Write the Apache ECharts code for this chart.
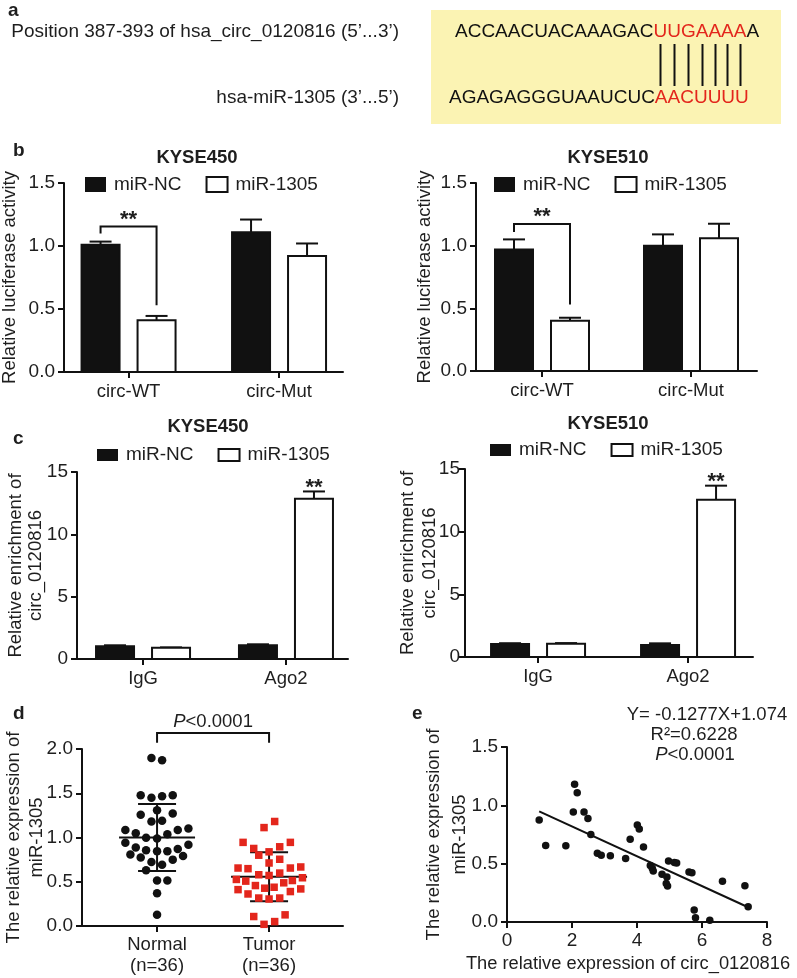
<!DOCTYPE html>
<html><head><meta charset="utf-8">
<script src="https://cdn.jsdelivr.net/npm/echarts@6/dist/echarts.min.js"></script>
<style>html,body{margin:0;padding:0;background:#fff}#c{width:797px;height:978px}</style>
</head><body><div id="c"></div>
<script>
// ---------------- data ----------------
const labelTop = 'Position 387-393 of hsa_circ_0120816 (5’...3’)';
const labelBot = 'hsa-miR-1305 (3’...5’)';
const seqTopBlack = 'ACCAACUACAAAGAC';
const seqTopRed = 'UUGAAAA';
const seqTopTail = 'A';
const seqBotBlack = 'AGAGAGGGUAAUCUC';
const seqBotRed = 'AACUUUU';

const seriesNames = ['miR-NC', 'miR-1305'];
const lucCategories = ['circ-WT', 'circ-Mut'];
const ripCategories = ['IgG', 'Ago2'];
const cellLines = ['KYSE450', 'KYSE510'];

const b450NC = [1.01, 1.11];  const b450NCErr = [0.025, 0.10];
const b450Mi = [0.41, 0.92];  const b450MiErr = [0.035, 0.10];
const b510NC = [0.97, 1.00];  const b510NCErr = [0.08, 0.09];
const b510Mi = [0.40, 1.06];  const b510MiErr = [0.025, 0.115];
const b450Bracket = [1.10, 1.155, 0.53];   // left leg end, top, right leg end
const b510Bracket = [1.11, 1.173, 0.53];

const c450NC = [1.02, 1.10];  const c450NCErr = [0.08, 0.08];
const c450Mi = [0.90, 12.86]; const c450MiErr = [0.03, 0.58];
const c510NC = [1.04, 0.96];  const c510NCErr = [0.06, 0.13];
const c510Mi = [1.06, 12.55]; const c510MiErr = [0.05, 1.12];

const dCategories = ['Normal', 'Tumor'];
const normalJitter = [-0.05,0.045,-0.146,-0.05,0.045,0.14,0,-0.146,0.14,-0.05,0.045,-0.283,-0.19,-0.098,0,0.092,0.185,0.28,-0.283,-0.19,-0.098,0,0.092,0.185,0.28,-0.238,-0.146,-0.05,0.045,0.14,0.232,-0.098,0,0.092,0,0];
const normalVals = [1.897,1.874,1.478,1.448,1.467,1.478,1.307,1.257,1.272,1.181,1.189,1.086,1.048,0.998,0.990,1.036,1.086,1.101,0.941,0.888,0.857,0.846,0.846,0.869,0.918,0.808,0.773,0.724,0.693,0.750,0.792,0.629,0.514,0.514,0.370,0.126];
const tumorJitter = [0.05,-0.045,-0.232,0.19,-0.137,0.095,0,-0.092,0.095,0,-0.277,-0.188,0.19,0.283,-0.092,0,0.095,-0.292,-0.208,0.208,0.298,-0.122,-0.039,0.045,0.131,-0.277,-0.188,0.19,0.283,-0.092,0,0.095,-0.137,0.143,-0.045,0.05];
const tumorVals = [1.181,1.112,0.945,0.945,0.876,0.895,0.838,0.800,0.754,0.712,0.655,0.648,0.655,0.667,0.579,0.571,0.598,0.526,0.507,0.514,0.545,0.457,0.427,0.438,0.488,0.411,0.362,0.389,0.419,0.316,0.305,0.316,0.107,0.126,0.019,0.050];
const dMean = [1.00, 0.556];
const dSD = [0.378, 0.276];
const dBracket = [2.07, 2.18];
const dPText = '<0.0001';

const eX = [0.99,1.19,1.81,2.08,2.16,2.04,2.37,2.49,2.58,2.78,2.90,3.18,3.65,3.79,4.01,4.07,4.20,4.41,4.47,4.50,4.77,4.92,4.94,4.90,4.97,5.15,5.22,5.60,5.69,5.76,5.80,6.24,6.63,7.32,7.42];
const eY = [0.875,0.656,0.653,1.180,1.108,0.943,0.943,0.888,0.750,0.590,0.573,0.568,0.544,0.709,0.832,0.797,0.643,0.485,0.460,0.438,0.409,0.385,0.308,0.330,0.522,0.510,0.505,0.428,0.423,0.103,0.037,0.014,0.350,0.311,0.130];
const fitSlope = -0.1277;
const fitIntercept = 1.074;
const eEquation = 'Y= -0.1277X+1.074';
const eR2 = 'R²=0.6228';

// ---------------- style / layout ----------------
const FONT = '"Liberation Sans", Arial, Helvetica, sans-serif';
const TXT = '#1e1e1e';
const INK = '#111';
const RED = '#e3261c';
const YELLOW = '#fbf3b3';

const grids = [
  {left: 64,  top: 183, width: 279, height: 189},  // b KYSE450
  {left: 476, top: 183, width: 281, height: 188},  // b KYSE510
  {left: 77,  top: 472, width: 271, height: 187},  // c KYSE450
  {left: 465, top: 469, width: 288, height: 188},  // c KYSE510
  {left: 82,  top: 749, width: 261, height: 177},  // d
  {left: 507, top: 747, width: 260, height: 175}   // e
].map(g => Object.assign({outerBoundsMode: 'none', containLabel: false}, g));

const xRanges = [[-0.429, 1.425], [-0.443, 1.443], [-0.462, 1.434], [-0.487, 1.433]];

function axisLineCfg() { return {show: true, onZero: false, lineStyle: {color: INK, width: 2}}; }
function tickCfg(extra) { return Object.assign({show: true, inside: false, length: 6, lineStyle: {color: INK, width: 2}}, extra || {}); }

function yAxis(idx, max, interval, dec, name, gap, lh, margin) {
  return {
    type: 'value', gridIndex: idx, min: 0, max: max, interval: interval,
    axisLine: axisLineCfg(), axisTick: tickCfg(), splitLine: {show: false},
    axisLabel: {fontSize: 19, color: TXT, fontFamily: FONT, margin: margin || 9, formatter: v => v.toFixed(dec)},
    name: name, nameLocation: 'middle', nameGap: gap, nameRotate: 90, nameMoveOverlap: false,
    nameTextStyle: {fontSize: 18.5, color: TXT, fontFamily: FONT, lineHeight: lh, align: 'center'}
  };
}
function catXAxis(idx, cats) {
  return {
    type: 'value', gridIndex: idx, min: xRanges[idx][0], max: xRanges[idx][1],
    axisLine: axisLineCfg(), splitLine: {show: false},
    axisTick: tickCfg({customValues: cats.map((c, i) => i)}),
    axisLabel: {customValues: cats.map((c, i) => i), fontSize: 18.5, color: TXT, fontFamily: FONT, margin: 10,
                formatter: v => cats[Math.round(v)]}
  };
}

const BAR_W = 38, BAR_OFF = 28, CAP = 11;
function barSeries(idx, name, vals, errs, side, fill) {
  return {
    type: 'custom', name: name, xAxisIndex: idx, yAxisIndex: idx, clip: false, silent: true,
    itemStyle: {color: fill, borderColor: INK},
    encode: {x: 0, y: 1},
    data: vals.map((v, i) => [i, v, errs[i]]),
    renderItem: function (params, api) {
      const x = api.value(0), v = api.value(1), e = api.value(2);
      const p0 = api.coord([x, 0]), p1 = api.coord([x, v]), p2 = api.coord([x, v + e]);
      const cx = p0[0] + side * BAR_OFF;
      const ch = [];
      if (e > 0) {
        ch.push({type: 'line', shape: {x1: cx, y1: p1[1], x2: cx, y2: p2[1]}, style: {stroke: INK, lineWidth: 2}});
        ch.push({type: 'line', shape: {x1: cx - CAP, y1: p2[1], x2: cx + CAP, y2: p2[1]}, style: {stroke: INK, lineWidth: 2}});
      }
      ch.push({type: 'rect', shape: {x: cx - BAR_W / 2, y: p1[1], width: BAR_W, height: p0[1] - p1[1]},
               style: {fill: fill, stroke: INK, lineWidth: 2}});
      return {type: 'group', children: ch};
    }
  };
}
function bracketSeries(idx, br) {
  return {
    type: 'custom', xAxisIndex: idx, yAxisIndex: idx, clip: false, silent: true,
    data: [[0, br[0], br[1], br[2]]],
    renderItem: function (params, api) {
      const x = api.value(0);
      const pl = api.coord([x, api.value(1)]), pt = api.coord([x, api.value(2)]), pr = api.coord([x, api.value(3)]);
      const xl = pt[0] - BAR_OFF, xr = pt[0] + BAR_OFF;
      return {type: 'group', children: [
        {type: 'polyline', shape: {points: [[xl, pl[1]], [xl, pt[1]], [xr, pt[1]], [xr, pr[1]]]}, style: {stroke: INK, lineWidth: 2, fill: null}},
        {type: 'text', x: pt[0], y: pt[1] - 7, style: {text: '**', fontSize: 22, fontWeight: 'bold', fontFamily: FONT, fill: TXT, align: 'center', verticalAlign: 'middle'}}
      ]};
    }
  };
}
function starSeries(idx, vals, errs, catIdx) {
  return {
    type: 'custom', xAxisIndex: idx, yAxisIndex: idx, clip: false, silent: true,
    data: [[catIdx, vals[catIdx] + errs[catIdx]]],
    renderItem: function (params, api) {
      const p = api.coord([api.value(0), api.value(1)]);
      return {type: 'text', x: p[0] + BAR_OFF, y: p[1] - 4,
              style: {text: '**', fontSize: 22, fontWeight: 'bold', fontFamily: FONT, fill: TXT, align: 'center', verticalAlign: 'middle'}};
    }
  };
}
function legendCfg(left, top, ih) {
  return {
    left: left, top: top, padding: 0, itemGap: 24, itemWidth: 21, itemHeight: ih, selectedMode: false,
    textStyle: {fontSize: 19, color: TXT, fontFamily: FONT, lineHeight: 20, padding: [0, 0, 0, 3]},
    data: [
      {name: seriesNames[0], icon: 'rect', itemStyle: {color: INK, borderColor: INK, borderWidth: 0}},
      {name: seriesNames[1], icon: 'rect', itemStyle: {color: '#fff', borderColor: INK, borderWidth: 2}}
    ]
  };
}

// ---------------- axes ----------------
const xAxes = [
  catXAxis(0, lucCategories), catXAxis(1, lucCategories),
  catXAxis(2, ripCategories), catXAxis(3, ripCategories),
  {
    type: 'value', gridIndex: 4, min: 0.33, max: 2.66,
    axisLine: axisLineCfg(), splitLine: {show: false},
    axisTick: tickCfg({customValues: [1, 2]}),
    axisLabel: {customValues: [1, 2], fontSize: 18.5, color: TXT, fontFamily: FONT, margin: 8, lineHeight: 21,
      formatter: v => dCategories[Math.round(v) - 1] + '\n(n=' + (Math.round(v) === 1 ? normalVals.length : tumorVals.length) + ')'}
  },
  {
    type: 'value', gridIndex: 5, min: 0, max: 8, interval: 2,
    axisLine: axisLineCfg(), axisTick: tickCfg(), splitLine: {show: false},
    axisLabel: {fontSize: 19, color: TXT, fontFamily: FONT, margin: 9},
    name: 'The relative expression of circ_0120816', nameLocation: 'middle', nameGap: 33, nameMoveOverlap: false,
    nameTextStyle: {fontSize: 18.3, color: TXT, fontFamily: FONT, padding: [0, 18, 0, 0]}
  }
];
const yAxes = [
  yAxis(0, 1.5, 0.5, 1, 'Relative luciferase activity', 43.5, 21),
  yAxis(1, 1.5, 0.5, 1, 'Relative luciferase activity', 40.5, 21),
  yAxis(2, 15, 5, 0, 'Relative enrichment of\ncirc_0120816', 31.5, 20),
  yAxis(3, 15, 5, 0, 'Relative enrichment of\ncirc_0120816', 24, 22, 5),
  yAxis(4, 2, 0.5, 1, 'The relative expression of\nmiR-1305', 33.5, 23),
  yAxis(5, 1.5, 0.5, 1, 'The relative expression of\nmiR-1305', 34, 26)
];

// ---------------- series ----------------
const series = [
  barSeries(0, seriesNames[0], b450NC, b450NCErr, -1, INK),
  barSeries(0, seriesNames[1], b450Mi, b450MiErr, 1, '#fff'),
  bracketSeries(0, b450Bracket),
  barSeries(1, seriesNames[0], b510NC, b510NCErr, -1, INK),
  barSeries(1, seriesNames[1], b510Mi, b510MiErr, 1, '#fff'),
  bracketSeries(1, b510Bracket),
  barSeries(2, seriesNames[0], c450NC, c450NCErr, -1, INK),
  barSeries(2, seriesNames[1], c450Mi, c450MiErr, 1, '#fff'),
  starSeries(2, c450Mi, c450MiErr, 1),
  barSeries(3, seriesNames[0], c510NC, c510NCErr, -1, INK),
  barSeries(3, seriesNames[1], c510Mi, c510MiErr, 1, '#fff'),
  starSeries(3, c510Mi, c510MiErr, 1),
  {
    type: 'scatter', xAxisIndex: 4, yAxisIndex: 4, silent: true, symbol: 'circle', symbolSize: 8.5,
    itemStyle: {color: INK, opacity: 1}, data: normalVals.map((v, i) => [1 + normalJitter[i], v])
  },
  {
    type: 'scatter', xAxisIndex: 4, yAxisIndex: 4, silent: true, symbol: 'rect', symbolSize: 7.5,
    itemStyle: {color: RED, opacity: 1}, data: tumorVals.map((v, i) => [2 + tumorJitter[i], v])
  },
  {
    type: 'custom', xAxisIndex: 4, yAxisIndex: 4, clip: false, silent: true,
    data: dMean.map((m, i) => [i + 1, m, dSD[i]]),
    renderItem: function (params, api) {
      const x = api.value(0), m = api.value(1), s = api.value(2);
      const pm = api.coord([x, m]), pt = api.coord([x, m + s]), pb = api.coord([x, m - s]);
      const st = {stroke: INK, lineWidth: 2};
      return {type: 'group', children: [
        {type: 'line', shape: {x1: pm[0] - 38, y1: pm[1], x2: pm[0] + 38, y2: pm[1]}, style: st},
        {type: 'line', shape: {x1: pm[0], y1: pt[1], x2: pm[0], y2: pb[1]}, style: st},
        {type: 'line', shape: {x1: pm[0] - 19, y1: pt[1], x2: pm[0] + 19, y2: pt[1]}, style: st},
        {type: 'line', shape: {x1: pm[0] - 19, y1: pb[1], x2: pm[0] + 19, y2: pb[1]}, style: st}
      ]};
    }
  },
  {
    type: 'custom', xAxisIndex: 4, yAxisIndex: 4, clip: false, silent: true,
    data: [[1, 2, dBracket[0], dBracket[1]]],
    renderItem: function (params, api) {
      const a = api.coord([api.value(0), api.value(2)]), at = api.coord([api.value(0), api.value(3)]);
      const b = api.coord([api.value(1), api.value(2)]), bt = api.coord([api.value(1), api.value(3)]);
      return {type: 'group', children: [
        {type: 'polyline', shape: {points: [a, at, bt, b]}, style: {stroke: INK, lineWidth: 2, fill: null}},
        {type: 'text', x: (at[0] + bt[0]) / 2, y: at[1] - 11,
         style: {text: '{i|P}' + dPText, fontSize: 18.5, fontFamily: FONT, fill: TXT, align: 'center', verticalAlign: 'middle',
                 rich: {i: {fontStyle: 'italic', fontSize: 18.5, fontFamily: FONT, fill: TXT}}}}
      ]};
    }
  },
  {
    type: 'scatter', xAxisIndex: 5, yAxisIndex: 5, silent: true, symbol: 'circle', symbolSize: 7.5,
    itemStyle: {color: INK, opacity: 1}, data: eX.map((x, i) => [x, eY[i]])
  },
  {
    type: 'line', xAxisIndex: 5, yAxisIndex: 5, silent: true, showSymbol: false, symbol: 'none',
    lineStyle: {color: INK, width: 2}, z: 3,
    data: [Math.min(...eX), Math.max(...eX)].map(x => [x, fitSlope * x + fitIntercept])
  }
];

// ---------------- panel a + free text ----------------
const ctx = document.createElement('canvas').getContext('2d');
ctx.font = '19px "Liberation Sans"';
const SEQ_X = 455;
const pairLines = [];
for (let i = 0; i < seqTopRed.length; i++) {
  const pre = ctx.measureText(seqTopBlack + seqTopRed.slice(0, i)).width;
  const w = ctx.measureText(seqTopRed[i]).width;
  const x = Math.round(SEQ_X + pre + w / 2) + 0.5;
  pairLines.push({type: 'line', shape: {x1: x, y1: 44, x2: x, y2: 86}, style: {stroke: INK, lineWidth: 2}});
}
function txt(x, y, text, opts) {
  return {type: 'text', x: x, y: y, silent: true,
          style: Object.assign({text: text, fontSize: 18.5, fontFamily: FONT, fill: TXT, align: 'center', verticalAlign: 'middle'}, opts || {})};
}
const richSeq = {k: {fill: INK, fontSize: 19, fontFamily: FONT}, r: {fill: RED, fontSize: 19, fontFamily: FONT}};
const graphics = [
  {type: 'rect', shape: {x: 431, y: 10, width: 350, height: 114}, style: {fill: YELLOW}, silent: true},
  txt(8, 11, 'a', {fontWeight: 'bold', fontSize: 19, align: 'left'}),
  txt(399, 32, labelTop, {fontSize: 19, align: 'right'}),
  txt(399, 98, labelBot, {fontSize: 19, align: 'right'}),
  txt(SEQ_X, 32, '{k|' + seqTopBlack + '}{r|' + seqTopRed + '}{k|' + seqTopTail + '}', {align: 'left', rich: richSeq}),
  txt(449, 98, '{k|' + seqBotBlack + '}{r|' + seqBotRed + '}', {align: 'left', rich: richSeq}),
  ...pairLines,
  txt(13, 151, 'b', {fontWeight: 'bold', fontSize: 19, align: 'left'}),
  txt(13, 439, 'c', {fontWeight: 'bold', fontSize: 19, align: 'left'}),
  txt(13, 714, 'd', {fontWeight: 'bold', fontSize: 19, align: 'left'}),
  txt(412, 714, 'e', {fontWeight: 'bold', fontSize: 19, align: 'left'}),
  txt(197, 158, cellLines[0], {fontWeight: 'bold'}),
  txt(608, 158, cellLines[1], {fontWeight: 'bold'}),
  txt(208, 427, cellLines[0], {fontWeight: 'bold'}),
  txt(608, 424, cellLines[1], {fontWeight: 'bold'}),
  txt(707, 715, eEquation),
  txt(694, 735, eR2),
  txt(695, 755, '{i|P}<0.0001', {rich: {i: {fontStyle: 'italic', fontSize: 18.5, fontFamily: FONT, fill: TXT}}})
];

const chart = echarts.init(document.getElementById('c'), null, {renderer: 'canvas'});
chart.setOption({
  animation: false,
  backgroundColor: '#fff',
  textStyle: {fontFamily: FONT},
  grid: grids,
  xAxis: xAxes,
  yAxis: yAxes,
  legend: [legendCfg(85, 174.5, 15), legendCfg(494, 174.5, 15), legendCfg(97, 445, 12), legendCfg(490, 440, 12)],
  series: series,
  graphic: {elements: graphics}
});
</script>
</body></html>
